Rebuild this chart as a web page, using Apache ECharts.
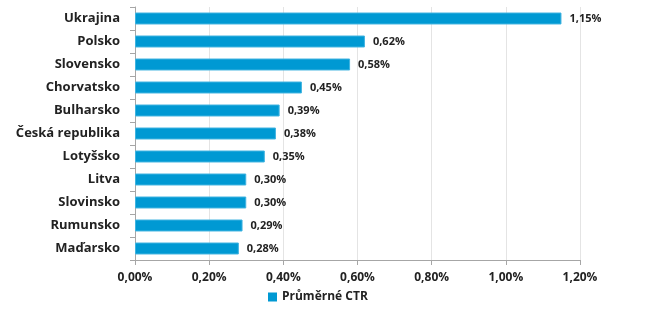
<!DOCTYPE html>
<html><head><meta charset="utf-8">
<script src="https://cdn.jsdelivr.net/npm/echarts@6/dist/echarts.min.js"></script>
<style>html,body{margin:0;padding:0;background:#fff}#c{width:650px;height:328px}</style>
</head><body><div id="c"></div>
<script>
const categories = ['Ukrajina','Polsko','Slovensko','Chorvatsko','Bulharsko','Česká republika','Lotyšsko','Litva','Slovinsko','Rumunsko','Maďarsko'];
const ctrValues = [1.15,0.62,0.58,0.45,0.39,0.38,0.35,0.30,0.30,0.29,0.28];
const seriesName = 'Průměrné CTR';
const fmt = v => v.toFixed(2).replace('.', ',') + '%';
const FONT = '"Open Sans", "DejaVu Sans", sans-serif';
const chart = echarts.init(document.getElementById('c'), null, {renderer:'canvas'});
chart.setOption({
  animation:false,
  textStyle:{fontFamily:FONT},
  grid:{left:135,right:70,top:7,bottom:68,containLabel:false},
  legend:{show:true,data:[seriesName],bottom:20,left:263,itemWidth:9,itemHeight:9,itemGap:5,icon:'rect',
    itemStyle:{borderWidth:0,color:'#0099d3'},
    textStyle:{fontFamily:FONT,fontWeight:'bold',fontSize:12,color:'#222'}},
  xAxis:{type:'value',min:0,max:1.2,interval:0.2,
    axisLine:{show:true,lineStyle:{color:'#a6a6a6'}},
    axisTick:{show:true,length:5,lineStyle:{color:'#a6a6a6'}},
    splitLine:{show:true,lineStyle:{color:'#e4e4e4'}},
    axisLabel:{formatter:fmt,fontFamily:FONT,fontWeight:'bold',fontSize:12,color:'#222',margin:12}},
  yAxis:{type:'category',data:categories,inverse:true,
    axisLine:{show:true,lineStyle:{color:'#a6a6a6'}},
    axisTick:{show:true,length:5,lineStyle:{color:'#a6a6a6'}},
    axisLabel:{fontFamily:FONT,fontWeight:'bold',fontSize:13,color:'#222',margin:15}},
  series:[{name:seriesName,type:'bar',data:ctrValues,barWidth:'52%',
    itemStyle:{color:'#0099d3',borderColor:'#3fb3e0',borderWidth:1},
    label:{show:true,position:'right',distance:8,formatter:p=>fmt(p.value),fontFamily:FONT,fontWeight:'bold',fontSize:11,color:'#222'}}]
});
</script></body></html>
